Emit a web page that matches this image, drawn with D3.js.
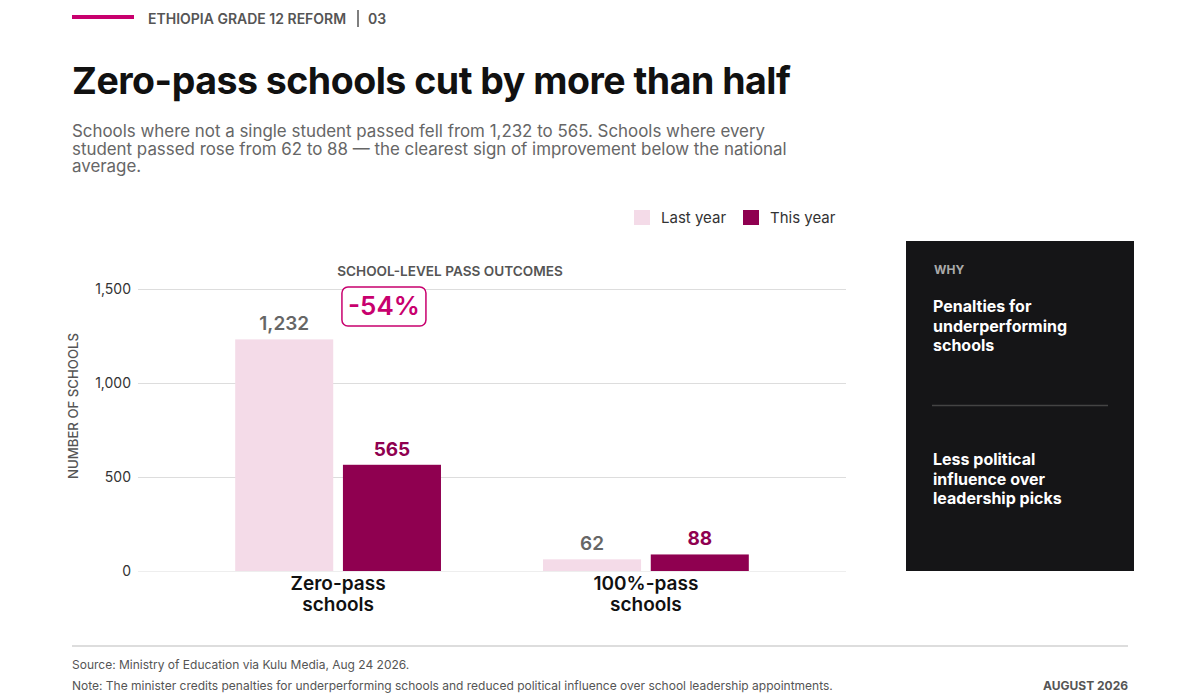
<!DOCTYPE html>
<html>
<head>
<meta charset="utf-8">
<script src="https://cdn.jsdelivr.net/npm/d3@7"></script>
<style>
  html, body { margin: 0; padding: 0; background: #fff; }
  svg { display: block; font-family: Inter, "Noto Sans", sans-serif; }
</style>
</head>
<body>
<svg id="chart"></svg>
<script>
var svg_width = 1200;
var svg_height = 700;

// data
var categories = [["Zero-pass", "schools"], ["100%-pass", "schools"]];
var series = ["Last year", "This year"];
var last_year = [1232, 62];
var this_year = [565, 88];
var y_ticks = [0, 500, 1000, 1500];
var reasons = [
  ["Penalties for", "underperforming", "schools"],
  ["Less political", "influence over", "leadership picks"]
];

var colors = {"Last year": "#f4dbe8", "This year": "#8f0050"};
var label_colors = {"Last year": "#666", "This year": "#8f0050"};
var accent = "#c8006e";

var rows = categories.map(function(c, i) {
  return {cat: i, values: [{key: "Last year", value: last_year[i]}, {key: "This year", value: this_year[i]}]};
});

var svg = d3.select('#chart')
  .attr('width', svg_width)
  .attr('height', svg_height);

// header
svg.append('rect').attr('x', 72).attr('y', 15).attr('width', 62).attr('height', 4).attr('fill', accent);
svg.append('text').attr('x', 148).attr('y', 24)
  .attr('font-size', 14).attr('font-weight', 600).attr('fill', '#555')
  .text('ETHIOPIA GRADE 12 REFORM');
svg.append('line').attr('x1', 358).attr('x2', 358).attr('y1', 10).attr('y2', 27)
  .attr('stroke', '#555').attr('stroke-width', 1.5);
svg.append('text').attr('x', 368).attr('y', 24)
  .attr('font-size', 14).attr('font-weight', 600).attr('fill', '#555')
  .text('03');

svg.append('text').attr('x', 72).attr('y', 94)
  .attr('font-size', 37.5).attr('font-weight', 700).attr('fill', '#111')
  .attr('letter-spacing', -0.5)
  .text('Zero-pass schools cut by more than half');

var sub = ["Schools where not a single student passed fell from 1,232 to 565. Schools where every",
  "student passed rose from 62 to 88 \u2014 the clearest sign of improvement below the national",
  "average."];
svg.append('text').attr('x', 72).attr('y', 137)
  .attr('font-size', 16.9).attr('fill', '#666')
  .selectAll('tspan').data(sub).enter().append('tspan')
  .attr('x', 72).attr('dy', function(d, i) { return i ? 17.5 : 0; })
  .text(function(d) { return d; });

// legend
var legend = svg.append('g').selectAll('g').data(series).enter().append('g')
  .attr('transform', function(d, i) { return 'translate(' + (634 + i * 109) + ',210)'; });
legend.append('rect').attr('width', 16).attr('height', 15)
  .attr('fill', function(d) { return colors[d]; });
legend.append('text').attr('x', 27).attr('y', 13)
  .attr('font-size', 15).attr('fill', '#333')
  .text(function(d) { return d; });

// scales
var xScale = d3.scaleBand().domain(d3.range(categories.length))
  .range([138, 846]).paddingInner(0.3).paddingOuter(0.3);
var xInner = d3.scaleBand().domain(series)
  .range([0, xScale.bandwidth()]).paddingInner(0.09).paddingOuter(0.045);
var yScale = d3.scaleLinear().domain([0, 1500]).range([571, 289]);

// grid + y axis
var yAxis = svg.append('g').attr('transform', 'translate(138,0)')
  .call(d3.axisLeft(yScale).tickValues(y_ticks).tickSize(-708).tickFormat(d3.format(',')).tickPadding(7));
yAxis.select('.domain').remove();
yAxis.selectAll('.tick line').attr('stroke', '#ddd').attr('stroke-width', 1);
yAxis.selectAll('.tick text').attr('font-size', 14).attr('fill', '#333')
  .attr('font-family', 'Inter, "Noto Sans", sans-serif');
yAxis.selectAll('.tick').filter(function(d) { return d === 0; }).select('line').attr('stroke', '#eee');

svg.append('text')
  .attr('transform', 'translate(78,406) rotate(-90)')
  .attr('text-anchor', 'middle').attr('font-size', 13.2).attr('font-weight', 500)
  .attr('fill', '#555').text('NUMBER OF SCHOOLS');

svg.append('text').attr('x', 450).attr('y', 276)
  .attr('text-anchor', 'middle').attr('font-size', 13.6).attr('font-weight', 600)
  .attr('fill', '#555').text('SCHOOL-LEVEL PASS OUTCOMES');

// bars
var groups = svg.append('g').selectAll('g').data(rows).enter().append('g')
  .attr('transform', function(d) { return 'translate(' + xScale(d.cat) + ',0)'; });

groups.selectAll('rect').data(function(d) { return d.values; }).enter().append('rect')
  .attr('x', function(d) { return xInner(d.key); })
  .attr('y', function(d) { return yScale(d.value); })
  .attr('width', xInner.bandwidth())
  .attr('height', function(d) { return yScale(0) - yScale(d.value); })
  .attr('fill', function(d) { return colors[d.key]; });

groups.selectAll('text.val').data(function(d) { return d.values; }).enter().append('text')
  .attr('class', 'val')
  .attr('x', function(d) { return xInner(d.key) + xInner.bandwidth() / 2; })
  .attr('y', function(d) { return yScale(d.value) - 9; })
  .attr('text-anchor', 'middle').attr('font-size', 19)
  .attr('font-weight', function(d) { return d.key === "This year" ? 700 : 600; })
  .attr('fill', function(d) { return label_colors[d.key]; })
  .text(function(d) { return d3.format(',')(d.value); });

// category labels
groups.append('text')
  .attr('x', xScale.bandwidth() / 2).attr('y', 590)
  .attr('text-anchor', 'middle').attr('font-size', 19).attr('font-weight', 600).attr('fill', '#111')
  .selectAll('tspan').data(function(d) { return categories[d.cat]; }).enter().append('tspan')
  .attr('x', xScale.bandwidth() / 2).attr('dy', function(d, i) { return i ? 21 : 0; })
  .text(function(d) { return d; });

// change annotation
var change = (this_year[0] - last_year[0]) / last_year[0];
var box_x = xScale(0) + xInner("This year") - 1;
var box_y = yScale(1500) - 2;
svg.append('rect').attr('x', box_x).attr('y', box_y).attr('width', 84).attr('height', 39)
  .attr('rx', 6).attr('fill', '#fff').attr('stroke', accent).attr('stroke-width', 1.5);
svg.append('text').attr('x', box_x + 42).attr('y', box_y + 28)
  .attr('text-anchor', 'middle').attr('font-size', 26).attr('font-weight', 600).attr('fill', accent)
  .text(d3.format('.0%')(change).replace('\u2212', '-'));

// side panel
var panel = svg.append('g').attr('transform', 'translate(906,241)');
panel.append('rect').attr('width', 228).attr('height', 330).attr('fill', '#151517');
panel.append('text').attr('x', 28).attr('y', 33)
  .attr('font-size', 12).attr('font-weight', 700).attr('fill', '#aaa').text('WHY');
panel.append('line').attr('x1', 26).attr('x2', 202).attr('y1', 164.5).attr('y2', 164.5)
  .attr('stroke', '#444').attr('stroke-width', 1.5);
panel.selectAll('text.reason').data(reasons).enter().append('text')
  .attr('class', 'reason')
  .attr('x', 27).attr('y', function(d, i) { return 71 + i * 153; })
  .attr('font-size', 16).attr('font-weight', 700).attr('fill', '#fff')
  .selectAll('tspan').data(function(d) { return d; }).enter().append('tspan')
  .attr('x', 27).attr('dy', function(d, i) { return i ? 19.5 : 0; })
  .text(function(d) { return d; });

// footer
svg.append('line').attr('x1', 72).attr('x2', 1128).attr('y1', 646).attr('y2', 646)
  .attr('stroke', '#ddd').attr('stroke-width', 2);
svg.append('text').attr('x', 72).attr('y', 669)
  .attr('font-size', 12).attr('fill', '#555')
  .text('Source: Ministry of Education via Kulu Media, Aug 24 2026.');
svg.append('text').attr('x', 72).attr('y', 690)
  .attr('font-size', 12).attr('fill', '#555')
  .text('Note: The minister credits penalties for underperforming schools and reduced political influence over school leadership appointments.');
svg.append('text').attr('x', 1128).attr('y', 690)
  .attr('text-anchor', 'end').attr('font-size', 12).attr('font-weight', 700).attr('fill', '#555')
  .text('AUGUST 2026');
</script>
</body>
</html>
